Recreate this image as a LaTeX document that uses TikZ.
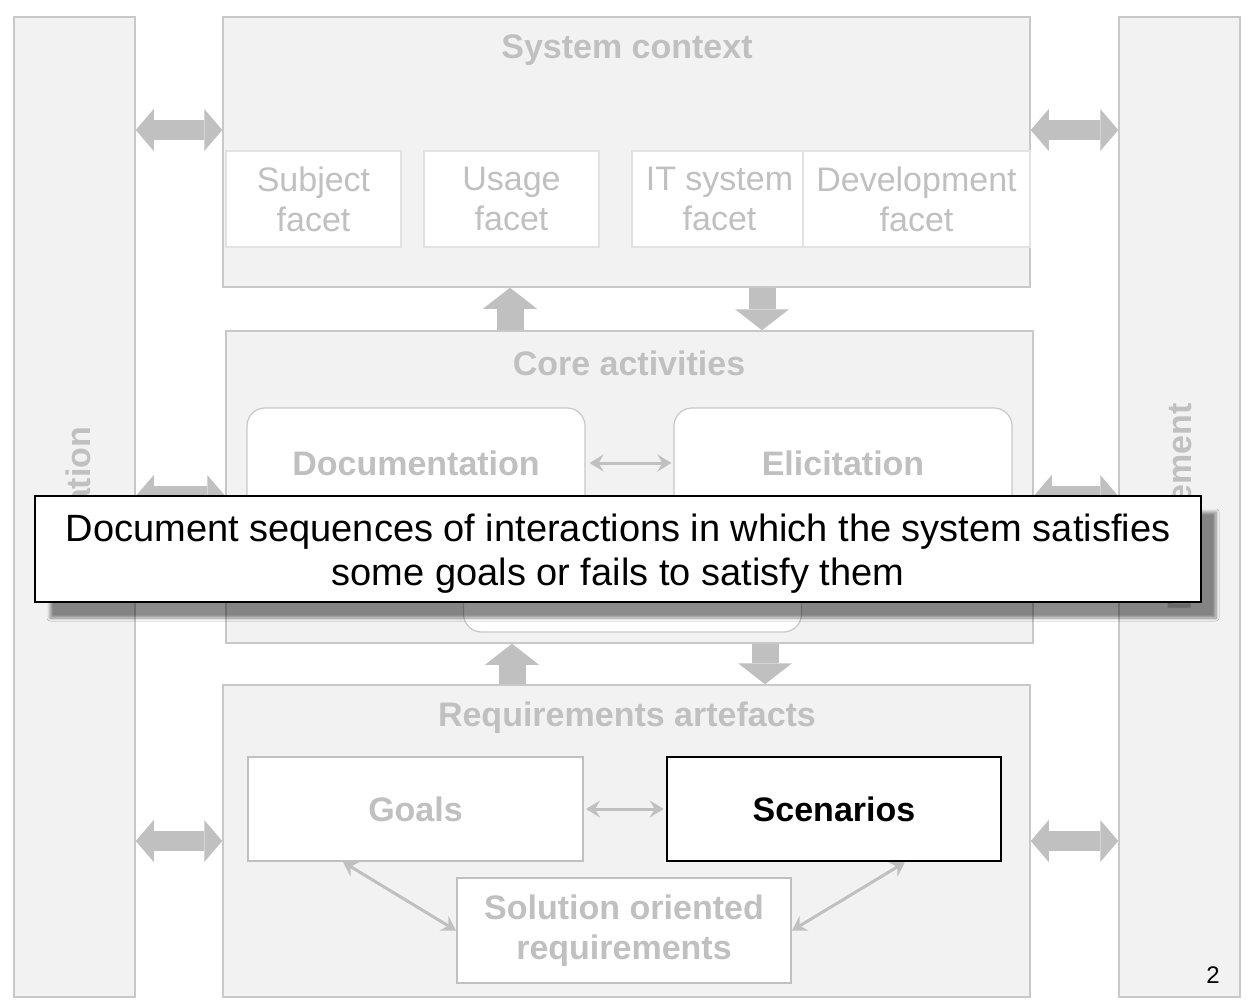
\documentclass[tikz,border=0pt]{standalone}
\usepackage{fontspec}
\setmainfont{Liberation Sans}
\usepackage{xcolor}
\usetikzlibrary{arrows.meta,shadows.blur}
\definecolor{Panel-fill}{HTML}{F2F2F2}
\definecolor{Panel-line}{HTML}{C8C8C8}
\definecolor{Faded}{HTML}{C0C0C0}
\definecolor{Facet-line}{HTML}{E2E2E2}
\newcommand{\slidereg}{\fontsize{34}{40}\selectfont}
\newcommand{\slidebold}{\fontsize{34}{40}\selectfont\bfseries}
\tikzstyle{panel}=[rectangle,fill=Panel-fill,draw=Panel-line,line width=1.5pt,inner sep=0pt]
\tikzstyle{title}=[text=Faded,font=\slidebold,inner sep=0pt]
\tikzstyle{facet}=[rectangle,fill=white,draw=Facet-line,line width=1.2pt,inner sep=0pt,align=center,text=Faded,font=\slidereg,minimum width=175pt,minimum height=96pt]
\tikzstyle{activity}=[rectangle,rounded corners=18pt,fill=white,draw=Panel-line,line width=1.2pt,text=Faded,font=\slidebold,minimum width=338pt,minimum height=110pt]
\tikzstyle{artefact}=[rectangle,fill=white,draw=Faded,line width=2pt,inner sep=0pt,align=center,text=Faded,font=\slidebold,minimum width=335pt,minimum height=104pt]
\tikzstyle{focus}=[draw=black,line width=2.5pt,text=black]
\tikzstyle{block}=[draw=Faded,line width=27pt,arrows={-Triangle[length=21pt,width=54pt,line width=0pt]}]
\tikzstyle{block-both}=[draw=Faded,line width=20pt,arrows={Triangle[length=18pt,width=42pt,line width=0pt]-Triangle[length=18pt,width=42pt,line width=0pt]}]
\tikzstyle{link}=[draw=Faded,line width=3pt,arrows={Stealth[length=14pt,width=17pt,inset=5pt]-Stealth[length=14pt,width=17pt,inset=5pt]}]
\tikzstyle{callout}=[rectangle,fill=white,draw=black,line width=1.2pt,minimum width=1166pt,minimum height=106pt,blur shadow={shadow xshift=15pt,shadow yshift=-16pt,shadow blur radius=3pt,shadow blur steps=6,shadow opacity=45}]
\tikzstyle{callout-text}=[align=center,inner sep=0pt,font=\fontsize{38}{44}\selectfont]

\begin{document}
\begin{tikzpicture}[x=1pt,y=-1pt]

\path[use as bounding box,fill=white] (0,0) rectangle (1253,1003);

% Panels
\node[panel,minimum width=121pt,minimum height=980pt] (leftbar)  at (74.5,507)  {};
\node[panel,minimum width=121pt,minimum height=980pt] (rightbar) at (1179.5,507) {};
\node[panel,minimum width=807pt,minimum height=270pt] (context)  at (626.5,152)  {};
\node[panel,minimum width=807pt,minimum height=312pt] (core)     at (629.5,487)  {};
\node[panel,minimum width=807pt,minimum height=312pt] (reqs)     at (626.5,841)  {};

% Titles
\node[title,rotate=90] (validation) at (78,507)   {Validation};
\node[title,rotate=90] (management) at (1183,507) {Management};
\node[title]           (ctx title)  at (627,50)   {System context};
\node[title]           (core title) at (629,363)  {Core activities};
\node[title]           (reqs title) at (627,718)  {Requirements artefacts};

% Facets
\node[facet]                  (subject) at (313.5,199) {Subject\\facet};
\node[facet]                  (usage)   at (511.5,199) {Usage\\facet};
\node[facet]                  (itsys)   at (719.5,199) {IT system\\facet};
\node[facet,minimum width=227pt] (devel) at (916.5,199) {Development\\facet};

% Core activities
\node[activity] (documentation) at (416,463)   {Documentation};
\node[activity] (elicitation)   at (843,463)   {Elicitation};
\node[activity] (third)         at (632.5,577) {};

% Artefacts
\node[artefact]                         (goals)     at (415.5,809) {Goals};
\node[artefact,focus,minimum width=334pt] (scenarios) at (834,809)   {Scenarios};
\node[artefact,minimum width=334pt,minimum height=105pt] (solution) at (624,930.5) {Solution oriented\\requirements};

% Page number
\node[font=\fontsize{24}{28}\selectfont] (page) at (1213,975) {2};

% Edges
\draw[block] (core.north -| 510,0)    -- (context.south -| 510,0);
\draw[block] (context.south -| 762,0) -- (core.north -| 762,0);
\draw[block] (reqs.north -| 512,0)    -- (core.south -| 512,0);
\draw[block] (core.south -| 765,0)    -- (reqs.north -| 765,0);

\draw[block-both] (leftbar.east |- 0,130) -- (context.west |- 0,130);
\draw[block-both] (leftbar.east |- 0,496) -- (core.west |- 0,496);
\draw[block-both] (leftbar.east |- 0,841) -- (reqs.west |- 0,841);
\draw[block-both] (context.east |- 0,130) -- (rightbar.west |- 0,130);
\draw[block-both] (core.east |- 0,496)    -- (rightbar.west |- 0,496);
\draw[block-both] (reqs.east |- 0,841)    -- (rightbar.west |- 0,841);

\draw[link,shorten <=4pt,shorten >=2pt] (documentation) -- (elicitation);
\draw[link,shorten <=2pt,shorten >=2pt] (goals) -- (scenarios);
\draw[link] (goals.south -| 343,0) -- (solution.west);
\draw[link] (solution.east) -- (scenarios.south -| 905,0);

% Callout
\node[callout] (note) at (618,549) {};
\node[callout-text] (note text) at ([yshift=-5pt]note.center) {Document sequences of interactions in which the system satisfies\\some goals or fails to satisfy them};

\end{tikzpicture}
\end{document}
